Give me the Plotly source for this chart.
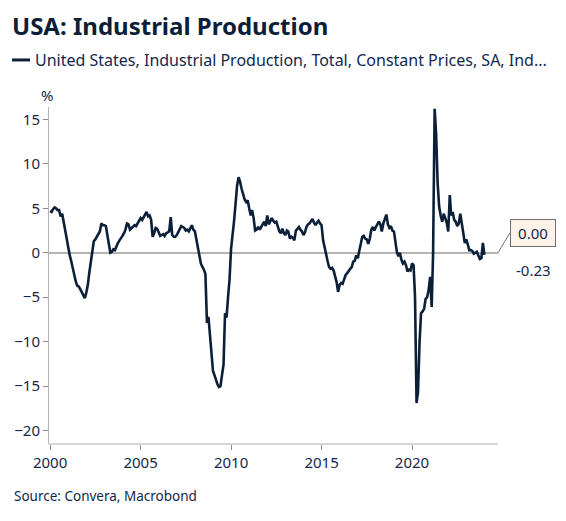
"""USA industrial production, year-on-year change, monthly."""

import pandas as pd
import plotly.graph_objects as go

NAVY = "#0b2038"
TEXT = "#13284a"
AXIS_GREY = "#b4b4b4"
FONT = "Noto Sans"

TITLE = "USA: Industrial Production"
SERIES_NAME = "United States, Industrial Production, Total, Constant Prices, SA, Ind..."
SOURCE = "Source: Convera, Macrobond"

START_MONTH = "2000-01-01"

# % change y/y, one list per calendar year (Jan..Dec)
IP_2000 = [4.7, 4.6, 4.9, 5.1, 5.0, 4.8, 4.8, 4.1, 4.4, 3.5, 2.6, 1.5]
IP_2001 = [0.4, -0.3, -0.9, -1.8, -2.6, -3.2, -3.7, -3.8, -4.1, -4.5, -4.8, -5.1]
IP_2002 = [-4.5, -3.6, -2.3, -1.0, 0.2, 1.3, 1.5, 1.8, 2.2, 2.4, 3.3, 3.1]
IP_2003 = [3.1, 3.0, 2.0, 1.0, 0.0, 0.1, 0.4, 0.3, 0.8, 1.1, 1.4, 1.6]
IP_2004 = [1.9, 2.2, 2.6, 3.3, 3.2, 2.6, 2.8, 3.0, 3.1, 3.0, 3.3, 3.6]
IP_2005 = [3.9, 3.7, 4.0, 4.3, 4.6, 4.1, 4.2, 3.7, 1.8, 2.2, 2.8, 2.7]
IP_2006 = [2.2, 1.9, 2.0, 2.1, 1.9, 2.2, 2.3, 2.4, 4.0, 2.0, 1.8, 1.8]
IP_2007 = [2.0, 2.4, 2.7, 3.0, 2.9, 2.8, 2.5, 2.6, 2.4, 2.8, 3.1, 2.6]
IP_2008 = [2.4, 1.5, 0.5, -0.5, -1.2, -1.6, -1.9, -2.4, -7.9, -7.2, -9.5, -11.8]
IP_2009 = [-13.3, -13.8, -14.4, -14.8, -15.1, -15.0, -13.8, -12.6, -6.8, -7.3, -5.0, -3.0]
IP_2010 = [0.5, 1.8, 3.5, 5.5, 7.5, 8.5, 8.0, 7.2, 6.5, 6.0, 5.7, 5.9]
IP_2011 = [5.0, 4.2, 4.8, 3.9, 2.5, 2.6, 2.9, 2.6, 2.9, 3.2, 3.5, 3.0]
IP_2012 = [4.2, 3.2, 3.6, 3.9, 3.6, 3.4, 3.5, 2.8, 2.4, 2.2, 2.7, 2.2]
IP_2013 = [2.0, 2.5, 2.4, 1.6, 1.8, 1.7, 1.4, 2.5, 2.7, 2.9, 2.6, 2.4]
IP_2014 = [2.0, 2.3, 2.9, 3.2, 3.3, 3.6, 3.8, 3.4, 3.1, 3.4, 3.6, 3.3]
IP_2015 = [3.1, 1.4, 0.5, -0.1, -0.9, -1.6, -1.8, -1.7, -2.0, -2.6, -3.3, -4.4]
IP_2016 = [-3.6, -3.4, -3.5, -3.0, -2.5, -2.3, -2.0, -1.8, -1.6, -1.0, -0.9, -0.3]
IP_2017 = [-0.6, 0.3, 1.2, 1.8, 1.9, 1.6, 1.5, 1.0, 1.6, 2.6, 2.9, 2.5]
IP_2018 = [2.9, 3.3, 3.5, 3.2, 2.4, 3.3, 3.8, 4.3, 3.2, 2.8, 3.0, 2.5]
IP_2019 = [2.4, 1.4, 0.1, -0.4, 0.0, -0.8, -1.2, -1.0, -1.4, -2.1, -1.9, -2.0]
IP_2020 = [-1.2, -1.4, -4.9, -16.9, -15.6, -10.0, -6.8, -6.6, -6.3, -5.2, -5.0, -4.2]
IP_2021 = [-2.7, -6.1, -0.1, 16.2, 13.4, 7.8, 5.2, 4.2, 3.5, 4.4, 4.0, 3.4]
IP_2022 = [2.4, 6.5, 4.2, 4.6, 3.7, 3.5, 3.0, 3.3, 4.4, 3.0, 2.2, 1.1]
IP_2023 = [1.5, 0.9, 0.3, 0.3, 0.2, -0.1, 0.0, 0.1, -0.3, -0.7, -0.6, 1.1]
IP_2024 = [-0.23]

YEARLY = [
    IP_2000, IP_2001, IP_2002, IP_2003, IP_2004, IP_2005, IP_2006, IP_2007,
    IP_2008, IP_2009, IP_2010, IP_2011, IP_2012, IP_2013, IP_2014, IP_2015,
    IP_2016, IP_2017, IP_2018, IP_2019, IP_2020, IP_2021, IP_2022, IP_2023,
    IP_2024,
]

Y_TICKS = [-20, -15, -10, -5, 0, 5, 10, 15]
X_TICK_START = "2000-01-01"
X_TICK_STEP = "M60"

# the page body keeps its 8px default margin, so the figure is 8px smaller
FIG_WIDTH = 558
FIG_HEIGHT = 513


def main() -> None:
    values = [v for year in YEARLY for v in year]
    months = pd.date_range(START_MONTH, periods=len(values), freq="MS")

    fig = go.Figure()
    fig.add_trace(
        go.Scatter(
            x=months,
            y=values,
            mode="lines",
            line=dict(color=NAVY, width=2.6),
            name=SERIES_NAME,
            showlegend=False,
            hovertemplate="%{x|%b %Y}: %{y:.2f}%<extra></extra>",
        )
    )

    fig.update_xaxes(
        range=["1999-12-10", "2024-10-01"],
        tick0=X_TICK_START,
        dtick=X_TICK_STEP,
        tickformat="%Y",
        ticks="outside",
        ticklen=5,
        tickcolor="#8c8c8c",
        showgrid=False,
        showline=True,
        linecolor="#d6d6d6",
        linewidth=2,
        automargin=False,
        tickfont=dict(family=FONT, size=15, color=TEXT),
    )
    fig.update_yaxes(
        range=[-21.4, 16.4],
        tickvals=Y_TICKS,
        ticks="outside",
        ticklen=5,
        tickcolor="#8c8c8c",
        showgrid=False,
        showline=True,
        linecolor=AXIS_GREY,
        linewidth=1,
        zeroline=True,
        zerolinecolor=AXIS_GREY,
        zerolinewidth=2,
        automargin=False,
        tickfont=dict(family=FONT, size=15, color=TEXT),
    )

    # legend entry drawn by hand so the sample line sits at the far left
    fig.add_shape(
        type="line", xref="paper", yref="paper",
        x0=-0.0824, x1=-0.0423, y0=1.140, y1=1.140,
        line=dict(color=NAVY, width=3),
    )
    annotations = [
        dict(text=f"<b>{TITLE}</b>", x=-0.087, y=1.244, xanchor="left", yanchor="middle",
             font=dict(size=24, color=NAVY)),
        dict(text=SERIES_NAME, x=-0.0356, y=1.140, xanchor="left", yanchor="middle",
             font=dict(size=16, color=TEXT)),
        dict(text="%", x=-0.0045, y=1.036, xanchor="center", yanchor="middle",
             font=dict(size=15, color=TEXT)),
        dict(text=SOURCE, x=-0.0824, y=-0.158, xanchor="left", yanchor="middle",
             font=dict(size=13.5, color=TEXT)),
    ]
    for a in annotations:
        fig.add_annotation(xref="paper", yref="paper", showarrow=False, **a)

    # last-value callouts at the right edge
    fig.add_annotation(
        xref="paper", yref="y", x=1.0, y=0,
        text="0.00", showarrow=True, arrowhead=0, arrowwidth=1, arrowcolor="#6e6e6e",
        ax=12, ay=-20, xanchor="left", yanchor="middle",
        bgcolor="#fdf3e8", bordercolor="#6e6e6e", borderwidth=1, borderpad=3,
        width=38, font=dict(family=FONT, size=15, color=TEXT),
    )
    fig.add_annotation(
        xref="paper", yref="y", x=1.0, y=values[-1],
        text=f"{values[-1]:.2f}", showarrow=False,
        xanchor="left", yanchor="middle", xshift=16, yshift=-15,
        font=dict(family=FONT, size=15, color=TEXT),
    )

    fig.update_layout(
        width=FIG_WIDTH,
        height=FIG_HEIGHT,
        margin=dict(l=41, r=68, t=99, b=78),
        paper_bgcolor="white",
        plot_bgcolor="white",
        font=dict(family=FONT, color=TEXT),
    )
    fig.write_html("out.html")


if __name__ == "__main__":
    main()
